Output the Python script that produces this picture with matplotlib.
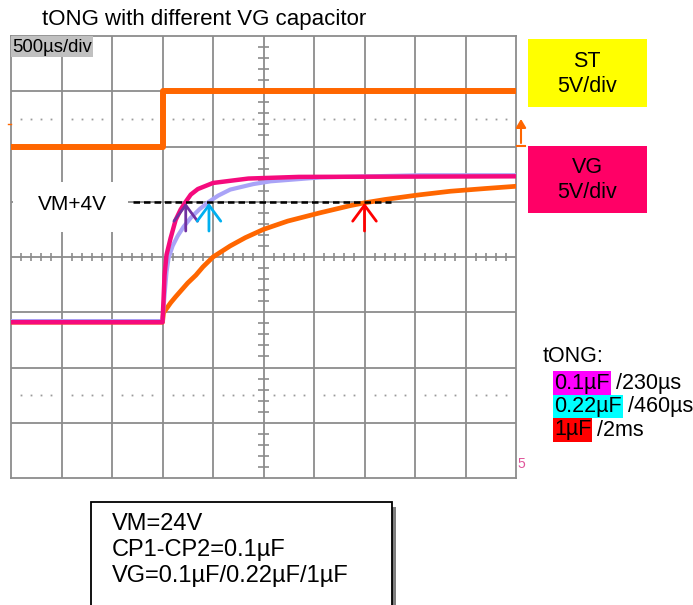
import numpy as np
import matplotlib.pyplot as plt
from matplotlib.patches import Rectangle

plt.rcParams['font.family'] = ['Liberation Sans', 'DejaVu Sans']

# time in us (500us/div, trigger at 0), level in divisions (0 = bottom of screen)
st_t = [-1500, 0, 0, 3500]
st_v = [6.0, 6.0, 7.0, 7.0]

vg01_t = [-1500, 0, 10, 20, 40, 80, 130, 180, 230, 280, 350, 500, 850, 1350, 3500]
vg01_v = [2.82, 2.82, 3.22, 3.67, 4.04, 4.34, 4.67, 4.86, 5.0, 5.13, 5.23, 5.34, 5.42, 5.45, 5.46]

vg022_t = [-1500, 0, 20, 40, 60, 100, 150, 210, 280, 370, 460, 550, 670, 900, 1070, 1560, 2550, 3500]
vg022_v = [2.84, 2.84, 3.31, 3.73, 3.98, 4.2, 4.38, 4.55, 4.71, 4.87, 5.0, 5.11, 5.22, 5.32, 5.37, 5.44, 5.48, 5.48]

vg1_t = [-1500, 0, 10, 80, 130, 250, 330, 400, 500, 670, 820, 1000, 1240, 1560, 1860, 2000,
         2200, 2520, 2850, 3200, 3500]
vg1_v = [2.82, 2.82, 2.99, 3.17, 3.28, 3.53, 3.67, 3.82, 4.0, 4.2, 4.35, 4.5, 4.65, 4.8, 4.93, 4.98,
         5.04, 5.12, 5.19, 5.24, 5.28]

vm4_level = 5.0
caps = ['0.1µF', '0.22µF', '1µF']
tong_us = [230, 460, 2000]
tong_txt = ['230µs', '460µs', '2ms']
cap_hl = ['#FF00FF', '#00FFFF', '#FF0000']
arrow_col = ['#7030A0', '#00B0F0', '#FF0000']

orange = '#FF6600'
pink = '#F50A7D'
lav = '#A9A3F7'
gridc = '#8C8C8C'

W, H = 693, 605
fig = plt.figure(figsize=(W / 100, H / 100), dpi=100)
ax = fig.add_axes([11 / W, 1 - 478 / H, 505 / W, 442 / H])
ax.set_xlim(-1500, 3500)
ax.set_ylim(0, 8)
ax.set_xticks([])
ax.set_yticks([])
for s in ax.spines.values():
    s.set_color(gridc)
    s.set_linewidth(1.3)

# scope graticule
for x in np.arange(-1000, 3500, 500):
    ax.axvline(x, color=gridc, lw=1.3, zorder=1)
for y in range(1, 8):
    ax.axhline(y, color=gridc, lw=1.3, zorder=1)
xs = [x for x in np.arange(-1400, 3500, 100) if x % 500 != 0]
ax.vlines(xs, 4 - 0.075, 4 + 0.075, color=gridc, lw=1.2, zorder=1)
ys = [0.2 * k for k in range(1, 40) if k % 5 != 0]
ax.hlines(ys, 1000 - 50, 1000 + 50, color=gridc, lw=1.2, zorder=1)
for yd in [1.5, 6.5]:
    ax.plot(xs, [yd] * len(xs), 's', ms=1.3, mew=0, color='#9A9A9A', zorder=1)

# traces
ax.plot(st_t, st_v, color=orange, lw=4.3, zorder=3)
ax.plot(vg1_t, vg1_v, color=orange, lw=3.4, zorder=3, solid_joinstyle='round')
ax.plot(vg022_t, vg022_v, color=lav, lw=3.0, zorder=4, solid_joinstyle='round')
ax.plot(vg01_t, vg01_v, color=pink, lw=3.2, zorder=5, solid_joinstyle='round')

ax.plot([-290, 2260], [vm4_level, vm4_level], color='black', lw=1.8,
        dashes=(2.6, 1.6), zorder=6)
for t, c in zip(tong_us, arrow_col):
    ax.annotate('', xy=(t, vm4_level - 0.02), xytext=(t, vm4_level - 0.53),
                arrowprops=dict(arrowstyle='->,head_length=1.15,head_width=0.85',
                                color=c, lw=2.0, mutation_scale=10,
                                shrinkA=0, shrinkB=0), zorder=7)

# overlay in pixel coordinates
ov = fig.add_axes([0, 0, 1, 1])
ov.set_xlim(0, W)
ov.set_ylim(H, 0)
ov.axis('off')

ov.text(42, 19, 'tONG with different VG capacitor', fontsize=16, va='center')
ov.add_patch(Rectangle((11, 36), 82, 21, fc='#C0C0C0', ec='none'))
ov.text(12, 47, '500µs/div', fontsize=13.3, va='center')

ov.add_patch(Rectangle((13, 182), 115, 50, fc='white', ec='none'))
ov.text(72, 204, 'VM+4V', fontsize=15, ha='center', va='center')

ov.add_patch(Rectangle((528, 39), 119, 68, fc='#FFFF00', ec='none'))
ov.text(587, 74, 'ST\n5V/div', fontsize=15.5, ha='center', va='center', linespacing=1.25)
ov.add_patch(Rectangle((528, 146), 119, 67, fc='#FF0066', ec='none'))
ov.text(587, 180, 'VG\n5V/div', fontsize=15.5, ha='center', va='center', linespacing=1.25)

# channel markers
ov.plot([517, 525], [146, 146], color=orange, lw=1.5)
ov.annotate('', xy=(521, 119), xytext=(521, 143),
            arrowprops=dict(arrowstyle='-|>,head_length=0.5,head_width=0.3',
                            color=orange, lw=1.5, shrinkA=0, shrinkB=0))
ov.plot([8, 11], [124, 124], color=orange, lw=1)
ov.text(521, 464, '5', color='#E0559A', fontsize=10, ha='center', va='center')

# tONG legend
ov.text(543, 357, 'tONG:', fontsize=15.5, va='center')
for i, (cp, tt, hc) in enumerate(zip(caps, tong_txt, cap_hl)):
    hl = ov.text(554, 383 + 23.5 * i, cp, fontsize=15.5, va='center',
                 bbox=dict(boxstyle='square,pad=0.05', fc=hc, ec='none'))
    ov.annotate(' /' + tt, xy=(1, 0), xycoords=hl, va='bottom', fontsize=15.5)

# condition box
ov.add_patch(Rectangle((95, 507), 301, 110, fc='#7F7F7F', ec='none'))
ov.add_patch(Rectangle((91, 502), 301, 110, fc='white', ec='black', lw=1.3))
for i, s in enumerate(['VM=24V', 'CP1-CP2=0.1µF', 'VG=0.1µF/0.22µF/1µF']):
    ov.text(112, 524 + 26 * i, s, fontsize=17, va='center')

fig.savefig('out.png', dpi=100)
